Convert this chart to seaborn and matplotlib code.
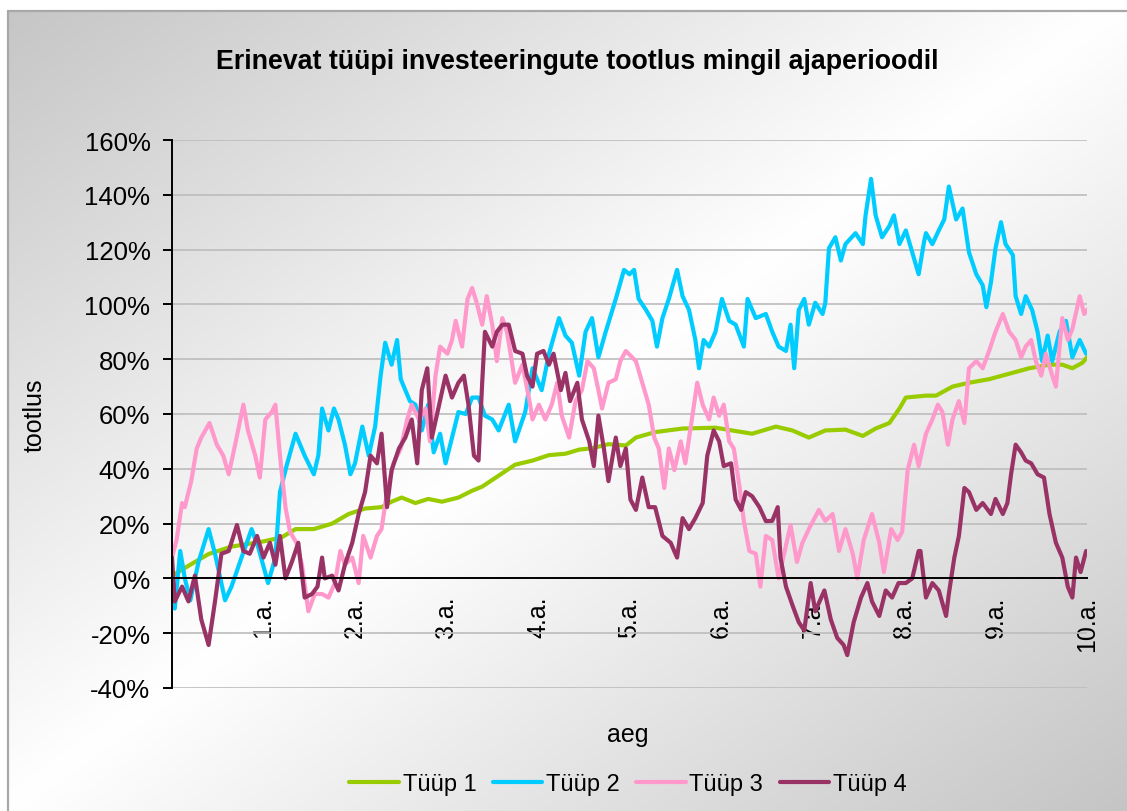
import numpy as np
import pandas as pd
import matplotlib
matplotlib.use('Agg')
import matplotlib.pyplot as plt
import seaborn as sns
from matplotlib.lines import Line2D

# ---- data, time in years, return in % ----
names = ['Tüüp 1', 'Tüüp 2', 'Tüüp 3', 'Tüüp 4']
colors = ['#99cc00', '#00ccff', '#ff99cc', '#993366']
year_ticks = [1, 2, 3, 4, 5, 6, 7, 8, 9, 10]
year_labels = ['1.a.', '2.a.', '3.a.', '4.a.', '5.a.', '6.a.', '7.a.', '8.a.', '9.a.', '10.a.']

t1 = [0.0, 0.2, 0.4, 0.65, 1.0, 1.2, 1.35, 1.55, 1.75, 1.93, 2.11, 2.29, 2.4, 2.51,
      2.66, 2.8, 2.95, 3.13, 3.28, 3.39, 3.57, 3.75, 3.94, 4.12, 4.3, 4.45, 4.59,
      4.77, 4.96, 5.07, 5.28, 5.58, 5.94, 6.12, 6.34, 6.6, 6.78, 6.96, 7.14, 7.36,
      7.55, 7.69, 7.84, 7.95, 8.02, 8.24, 8.35, 8.53, 8.71, 8.93, 9.15, 9.37, 9.59,
      9.73, 9.84, 9.95, 10.0]
v1 = [1, 5, 8.9, 11.6, 13.5, 15, 18, 18, 20, 23.5, 25.5, 26, 28, 29.5,
      27.5, 29, 28, 29.5, 32, 33.5, 37.5, 41.5, 43, 45, 45.5, 47, 47.5,
      49, 48.5, 51.4, 53.4, 54.7, 55, 54, 52.8, 55.4, 54, 51.4, 54, 54.3,
      52, 54.7, 56.7, 62, 66, 66.7, 66.7, 70, 71.4, 72.7, 74.7, 76.7, 78,
      78, 76.7, 78.7, 80.7]

t2 = [0.0, 0.03, 0.09, 0.14, 0.2, 0.29, 0.4, 0.47, 0.58, 0.65, 0.76, 0.87, 0.94,
      1.05, 1.13, 1.18, 1.25, 1.35, 1.45, 1.55, 1.6, 1.64, 1.71, 1.77, 1.82, 1.89,
      1.95, 2.0, 2.08, 2.15, 2.22, 2.28, 2.33, 2.4, 2.46, 2.5, 2.55, 2.6, 2.66,
      2.73, 2.8, 2.86, 2.93, 2.99, 3.06, 3.13, 3.21, 3.28, 3.35, 3.42, 3.5, 3.57,
      3.68, 3.75, 3.86, 3.94, 4.04, 4.12, 4.23, 4.3, 4.37, 4.45, 4.52, 4.59, 4.66,
      4.74, 4.85, 4.94, 5.0, 5.05, 5.1, 5.18, 5.25, 5.3, 5.36, 5.43, 5.52, 5.58,
      5.65, 5.72, 5.76, 5.81, 5.87, 5.94, 6.01, 6.09, 6.16, 6.25, 6.29, 6.38,
      6.49, 6.56, 6.63, 6.71, 6.76, 6.8, 6.85, 6.91, 6.96, 7.03, 7.11, 7.14, 7.18,
      7.25, 7.31, 7.36, 7.47, 7.55, 7.58, 7.64, 7.69, 7.76, 7.84, 7.89, 7.95,
      8.02, 8.09, 8.16, 8.22, 8.24, 8.31, 8.38, 8.44, 8.49, 8.57, 8.64, 8.71,
      8.79, 8.86, 8.9, 8.95, 9.0, 9.06, 9.11, 9.19, 9.22, 9.28, 9.33, 9.4, 9.46,
      9.51, 9.57, 9.62, 9.7, 9.77, 9.84, 9.92, 9.99]
v2 = [-8.4, -11, 10, 0, -8, 6, 18, 9, -8, -3, 7.6, 18, 11.6,
      -1.7, 7.6, 31.5, 40.8, 52.8, 44.8, 38, 45, 62, 54, 62, 58, 48.8,
      38, 42, 55.4, 44.8, 55.4, 74, 86, 78, 87, 72.7, 68.7, 64.7, 63.4,
      54, 63.4, 46, 52.8, 42, 51.4, 60.7, 60, 66, 66, 59.4, 58, 54,
      63.4, 50, 60.7, 76.7, 68.7, 82, 95, 88.6, 86, 74, 90, 95, 80.7,
      90, 102, 112.6, 111, 112.6, 102, 98, 94, 84.6, 95, 102, 112.6, 103,
      98, 87, 76.7, 87, 84.6, 90, 102, 94, 92.6, 84.6, 102, 95,
      96.5, 90, 84.6, 83, 92.6, 76.7, 98, 102, 92.6, 100.6, 96.5, 100.6, 120.5,
      124.5, 116, 122, 126, 122, 132.5, 145.8, 132.5, 124.5, 128.6, 132.5, 122,
      127, 119, 111, 123, 126, 122, 127, 131, 143, 131, 135, 119,
      111, 107, 99, 108, 120.5, 130, 122, 118, 103, 96.5, 103, 98, 90,
      79.3, 88.6, 79.3, 90, 94, 80.7, 87, 82]

t3 = [0.0, 0.05, 0.11, 0.14, 0.21, 0.27, 0.32, 0.41, 0.49, 0.56, 0.62, 0.69, 0.78,
      0.83, 0.91, 0.96, 1.02, 1.09, 1.13, 1.18, 1.24, 1.29, 1.36, 1.42, 1.49, 1.56,
      1.64, 1.71, 1.78, 1.84, 1.89, 1.97, 2.04, 2.09, 2.17, 2.24, 2.29, 2.35, 2.42,
      2.5, 2.57, 2.62, 2.7, 2.77, 2.82, 2.88, 2.93, 3.01, 3.06, 3.1, 3.17, 3.23,
      3.28, 3.33, 3.39, 3.44, 3.5, 3.55, 3.61, 3.66, 3.7, 3.75, 3.83, 3.9, 3.94,
      4.01, 4.08, 4.15, 4.21, 4.26, 4.34, 4.41, 4.48, 4.54, 4.61, 4.66, 4.7, 4.77,
      4.85, 4.9, 4.96, 5.07, 5.14, 5.21, 5.27, 5.32, 5.38, 5.43, 5.49, 5.56, 5.61,
      5.67, 5.74, 5.8, 5.87, 5.92, 5.98, 6.03, 6.09, 6.14, 6.2, 6.25, 6.31, 6.38,
      6.43, 6.49, 6.56, 6.63, 6.69, 6.76, 6.83, 6.89, 6.96, 7.07, 7.14, 7.22, 7.29,
      7.36, 7.44, 7.49, 7.56, 7.65, 7.73, 7.78, 7.86, 7.93, 7.98, 8.04, 8.11, 8.16,
      8.24, 8.31, 8.37, 8.42, 8.48, 8.53, 8.6, 8.66, 8.71, 8.79, 8.86, 8.93, 9.0,
      9.08, 9.15, 9.22, 9.28, 9.33, 9.39, 9.44, 9.5, 9.55, 9.62, 9.66, 9.73, 9.79,
      9.84, 9.92, 9.97, 10.0]
v3 = [7.6, 14, 27.5, 26, 35.5, 47.4, 51.4, 56.7, 48.8, 44.8, 38, 48.8, 63.4,
      54, 44.8, 36.8, 58, 60.7, 63.4, 44.8, 26, 17, 13, 5, -12, -5.7,
      -5.7, -7, -1.7, 10, 5, 7.6, -1.7, 15.5, 7.6, 15.5, 18, 31.5, 42,
      47.4, 58, 63.4, 58, 62, 50, 74, 84.6, 82, 87, 94, 84.6, 102,
      106, 100.6, 92.6, 103, 92.6, 79.3, 95, 90, 82, 71.4, 78, 66, 58,
      63.4, 58, 63.4, 71.4, 59.4, 51.4, 64.7, 68.7, 79.3, 76.7, 68.7, 62, 71.4,
      72.7, 79.3, 83, 79.3, 71.4, 63.4, 51.4, 47.4, 33, 47.4, 39.5, 50, 42,
      55.4, 71.4, 63.4, 58, 66, 59.4, 63.4, 50, 47.4, 34, 20.9, 10, 9,
      -3, 15.5, 14, 0, 9, 19.5, 6, 13, 18, 25, 21, 23.5, 10,
      18, 9, 0, 14, 23.5, 13, 2.3, 18, 14, 17, 39.5, 48.8, 41,
      52.8, 58, 63.4, 60.7, 48.8, 58, 64.7, 56.7, 76.7, 79.3, 76.7, 83, 90,
      96.5, 90, 87, 80.7, 84.6, 87, 79.3, 74, 82, 74, 70, 95, 87,
      91, 103, 96.5, 98]

t4 = [0.0, 0.03, 0.11, 0.18, 0.25, 0.32, 0.4, 0.47, 0.54, 0.62, 0.71, 0.78, 0.85,
      0.93, 1.0, 1.07, 1.13, 1.18, 1.24, 1.31, 1.38, 1.45, 1.53, 1.59, 1.64, 1.67,
      1.75, 1.82, 1.89, 1.97, 2.04, 2.11, 2.17, 2.24, 2.29, 2.35, 2.4, 2.48, 2.55,
      2.62, 2.68, 2.73, 2.79, 2.84, 2.92, 2.99, 3.06, 3.13, 3.19, 3.24, 3.3, 3.35,
      3.39, 3.42, 3.5, 3.55, 3.61, 3.68, 3.75, 3.83, 3.88, 3.94, 3.99, 4.06, 4.12,
      4.17, 4.25, 4.3, 4.35, 4.43, 4.48, 4.56, 4.61, 4.66, 4.72, 4.77, 4.85, 4.9,
      4.96, 5.01, 5.07, 5.14, 5.21, 5.28, 5.36, 5.45, 5.52, 5.58, 5.65, 5.72, 5.8,
      5.85, 5.92, 5.98, 6.03, 6.11, 6.16, 6.22, 6.27, 6.34, 6.42, 6.49, 6.56, 6.62,
      6.65, 6.71, 6.78, 6.85, 6.91, 6.98, 7.03, 7.13, 7.2, 7.27, 7.34, 7.38, 7.45,
      7.53, 7.6, 7.65, 7.73, 7.8, 7.87, 7.94, 8.02, 8.09, 8.16, 8.18, 8.24, 8.31,
      8.38, 8.46, 8.49, 8.55, 8.6, 8.66, 8.71, 8.79, 8.86, 8.95, 9.0, 9.08, 9.13,
      9.17, 9.22, 9.28, 9.33, 9.39, 9.46, 9.53, 9.59, 9.66, 9.73, 9.79, 9.84, 9.88,
      9.93, 9.99]
v4 = [7.6, -8.4, -3, -8.4, 1, -15, -24.3, -8.4, 9, 10, 19.5, 10, 9,
      15.5, 7.6, 13, 5, 15.5, 0, 6, 13, -7, -5.7, -3, 7.6, 0,
      1, -4.4, 5, 13, 23.5, 31.5, 44.8, 42, 52.8, 26, 39.5, 47.4, 51.4,
      58, 42, 68.7, 76.7, 51.4, 63.4, 74, 66, 71.4, 74, 63.4, 44.8, 43,
      71.4, 90, 84.6, 90, 92.6, 92.6, 83, 82, 74, 70, 82, 83, 78,
      82, 68.7, 75, 64.7, 71.4, 58, 50, 41, 59.4, 47.4, 35.5, 51.4, 41,
      47.4, 28.8, 25, 36.8, 26, 26, 15.5, 13, 7.6, 22, 18, 22, 27.5,
      44.8, 54, 50, 41, 42, 28.8, 25, 31.5, 30, 26, 20.9, 21, 26,
      7.6, -3, -9.7, -16, -19, -1.7, -12, -4.4, -15, -21.7, -24.3, -28, -16,
      -7, -1.7, -8.4, -13.7, -4.4, -7, -1.7, -1.7, 0, 10, 10, -7, -1.7,
      -4.4, -13.7, -5.7, 7.6, 15.5, 33, 31.5, 25, 27.5, 23.5, 29, 23.5, 27.5,
      38, 48.8, 46, 43, 42, 38, 36.8, 23.5, 13, 7.6, -3, -7, 7.6,
      2.3, 10]

df = pd.concat([
    pd.DataFrame({'aeg': t, 'tootlus': v, 'tüüp': n})
    for t, v, n in zip([t1, t2, t3, t4], [v1, v2, v3, v4], names)
], ignore_index=True)

# ---- style ----
sns.set_theme(style='white')
plt.rcParams['font.family'] = ['Liberation Sans', 'DejaVu Sans']
plt.rcParams['axes.unicode_minus'] = False
plt.rcParams['text.color'] = 'black'
plt.rcParams['axes.labelcolor'] = 'black'
plt.rcParams['xtick.color'] = 'black'
plt.rcParams['ytick.color'] = 'black'

W, H = 1127, 812
fig = plt.figure(figsize=(W / 100, H / 100), dpi=100)
fig.patch.set_facecolor('white')

# chart area background: diagonal grey-white-grey gradient (Excel look)
bg = fig.add_axes([0, 0, 1, 1], zorder=-5)
xx, yy = np.meshgrid(np.arange(W) / W, np.arange(H) / H)
shade = 1 - 0.23 * np.abs(xx + yy - 1)
shade[:12, :] = 1
shade[:, :8] = 1
bg.imshow(np.dstack([shade] * 3), extent=[0, 1, 0, 1], aspect='auto')
bg.set_xlim(0, 1)
bg.set_ylim(0, 1)
bg.axis('off')
fig.add_artist(Line2D([8 / W, 8 / W], [0, 1 - 12 / H], color='#a8a8a8', lw=1.6))
fig.add_artist(Line2D([8 / W, 1], [1 - 12 / H, 1 - 12 / H], color='#a8a8a8', lw=1.6))

# plot area
ax = fig.add_axes([172 / W, 1 - 689 / H, (1087 - 172) / W, (689 - 141) / H])
ax.patch.set_alpha(0)

sns.lineplot(data=df, x='aeg', y='tootlus', hue='tüüp', palette=colors,
             estimator=None, sort=False, lw=3.0, ax=ax)

# spines first: moving a spine resets the tick settings
for s in ['top', 'right']:
    ax.spines[s].set_visible(False)
ax.spines['left'].set_color('black')
ax.spines['left'].set_linewidth(1.4)
ax.spines['bottom'].set_position(('data', 0))
ax.spines['bottom'].set_color('black')
ax.spines['bottom'].set_linewidth(1.4)

ax.set_xlim(0, 10)
ax.set_ylim(-40, 160)
ax.set_yticks(np.arange(-40, 161, 20))
ax.set_yticklabels([f'{v}%' for v in range(-40, 161, 20)])
ax.set_xticks(year_ticks)
ax.set_xticklabels(year_labels, rotation=90, va='top', ha='center')
ax.yaxis.grid(True, color='#bcbcbc', lw=1.2)
ax.set_axisbelow(True)

ax.tick_params(axis='y', direction='out', length=6.5, width=1.4, labelsize=18.5, pad=9, left=True)
ax.tick_params(axis='x', length=0, labelsize=18, pad=12)

ax.set_xlabel('aeg', fontsize=18)
ax.set_ylabel('tootlus', fontsize=18)
ax.xaxis.set_label_coords((628 - 172) / 915, (689 - 735) / 548)
ax.yaxis.set_label_coords((35 - 172) / 915, 0.5)
ax.xaxis.label.set_va('center')
ax.yaxis.label.set_va('center')

fig.text(577 / W, 1 - 62 / H, 'Erinevat tüüpi investeeringute tootlus mingil ajaperioodil',
         ha='center', va='center', fontsize=19.3, fontweight='bold')

handles, labels = ax.get_legend_handles_labels()
ax.legend(handles, labels, loc='center', bbox_to_anchor=(628 / W, 1 - 785 / H),
          bbox_transform=fig.transFigure, ncol=4, frameon=False, fontsize=17,
          handlelength=2.1, handletextpad=0.15, columnspacing=0.7)

fig.savefig('out.png', dpi=100)
